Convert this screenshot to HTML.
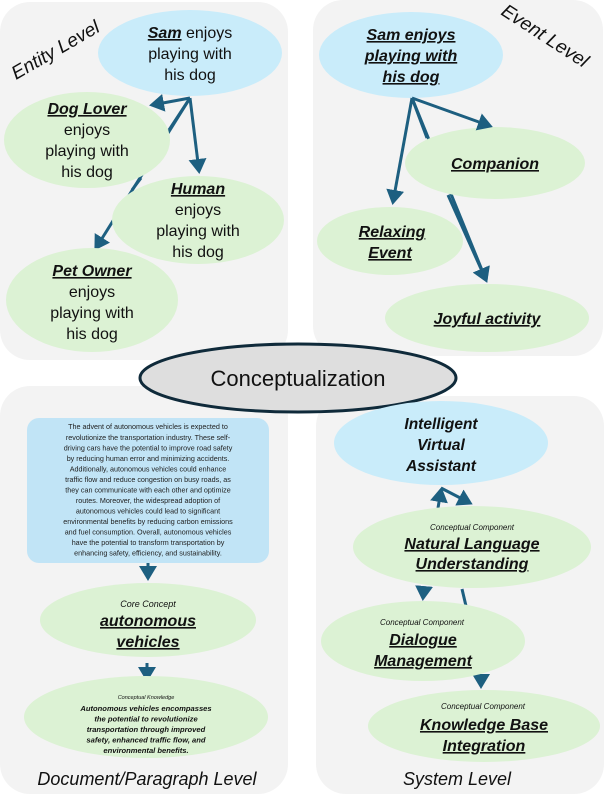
<!DOCTYPE html>
<html><head><meta charset="utf-8"><style>
html,body{margin:0;padding:0;background:#fff}
svg{display:block}
text{font-family:"Liberation Sans",sans-serif;fill:#111}
.b{font-weight:bold;font-style:italic;text-decoration:underline}
.n{font-size:16px}
.s{font-size:7.2px;fill:#222}
</style></head><body>
<svg width="604" height="796" viewBox="0 0 604 796" xmlns="http://www.w3.org/2000/svg">
<defs>
<marker id="a" markerWidth="6" markerHeight="6" refX="4" refY="3" orient="auto" markerUnits="strokeWidth"><path d="M0,0 L5,3 L0,6 z" fill="#1d5f80"/></marker>
</defs>
<g fill="#f3f3f3">
<rect x="0" y="2" width="288" height="358" rx="30"/>
<rect x="313" y="0" width="290" height="356" rx="30"/>
<rect x="0" y="386" width="288" height="408" rx="30"/>
<rect x="316" y="396" width="288" height="398" rx="30"/>
</g>
<g stroke="#1d5f80" stroke-width="3" fill="none">
<line x1="190" y1="98" x2="96" y2="248" marker-end="url(#a)"/>
<line x1="412" y1="98" x2="486" y2="280" marker-end="url(#a)"/>
</g>
<!-- Entity -->
<text transform="translate(16,80) rotate(-30)" font-size="19" font-style="italic">Entity Level</text>
<ellipse cx="190" cy="53" rx="92" ry="43" fill="#c9ecfa"/>
<text class="n" text-anchor="middle" x="190"><tspan x="190" y="38"><tspan class="b">Sam</tspan> enjoys</tspan><tspan x="190" y="59">playing with</tspan><tspan x="190" y="80">his dog</tspan></text>
<ellipse cx="87" cy="140" rx="83" ry="48" fill="#dcf2d4"/>
<ellipse cx="198" cy="220" rx="86" ry="44" fill="#dcf2d4"/>
<ellipse cx="92" cy="300" rx="86" ry="52" fill="#dcf2d4"/>
<g stroke="#1d5f80" stroke-width="3" fill="none">
<line x1="190" y1="98" x2="152" y2="105" marker-end="url(#a)"/>
<line x1="190" y1="98" x2="199" y2="171" marker-end="url(#a)"/>
<line x1="190" y1="98" x2="169" y2="130"/>
<line x1="141" y1="178" x2="132" y2="190"/>
</g>
<text class="n" text-anchor="middle"><tspan x="87" y="114" class="b">Dog Lover</tspan><tspan x="87" y="135">enjoys</tspan><tspan x="87" y="156">playing with</tspan><tspan x="87" y="177">his dog</tspan></text>
<text class="n" text-anchor="middle"><tspan x="198" y="194" class="b">Human</tspan><tspan x="198" y="215">enjoys</tspan><tspan x="198" y="236">playing with</tspan><tspan x="198" y="257">his dog</tspan></text>
<text class="n" text-anchor="middle"><tspan x="92" y="276" class="b">Pet Owner</tspan><tspan x="92" y="297">enjoys</tspan><tspan x="92" y="318">playing with</tspan><tspan x="92" y="339">his dog</tspan></text>
<!-- Event -->
<text transform="translate(500,14) rotate(33)" font-size="19" font-style="italic">Event Level</text>
<ellipse cx="411" cy="55" rx="92" ry="43" fill="#c9ecfa"/>
<text class="n" text-anchor="middle"><tspan x="411" y="40" class="b">Sam enjoys</tspan><tspan x="411" y="61" class="b">playing with</tspan><tspan x="411" y="82" class="b">his dog</tspan></text>
<ellipse cx="495" cy="163" rx="90" ry="36" fill="#dcf2d4"/>
<ellipse cx="390" cy="241" rx="73" ry="34" fill="#dcf2d4"/>
<ellipse cx="487" cy="318" rx="102" ry="34" fill="#dcf2d4"/>
<g stroke="#1d5f80" stroke-width="3" fill="none">
<line x1="412" y1="98" x2="490" y2="126" marker-end="url(#a)"/>
<line x1="412" y1="98" x2="393" y2="202" marker-end="url(#a)"/>
<line x1="412" y1="98" x2="427" y2="138"/>
<line x1="448" y1="195" x2="486" y2="280" marker-end="url(#a)"/>
</g>
<text class="n" text-anchor="middle"><tspan x="495" y="169" class="b">Companion</tspan></text>
<text class="n" text-anchor="middle"><tspan x="392" y="237" class="b">Relaxing</tspan><tspan x="390" y="258" class="b">Event</tspan></text>
<text class="n" text-anchor="middle"><tspan x="487" y="324" class="b">Joyful activity</tspan></text>
<!-- center -->
<ellipse cx="298" cy="378" rx="158" ry="34" fill="#dedede" stroke="#0f2a3a" stroke-width="3"/>
<text x="298" y="386" text-anchor="middle" font-size="22">Conceptualization</text>
<!-- Document -->
<rect x="27" y="418" width="242" height="145" rx="12" fill="#c1e4f6"/>
<g class="s" text-anchor="middle">
<text class="s" x="148" y="429">The advent of autonomous vehicles is expected to</text>
<text class="s" x="148" y="440">revolutionize the transportation industry. These self-</text>
<text class="s" x="148" y="450.5">driving cars have the potential to improve road safety</text>
<text class="s" x="148" y="461">by reducing human error and minimizing accidents.</text>
<text class="s" x="148" y="471.5">Additionally, autonomous vehicles could enhance</text>
<text class="s" x="148" y="482">traffic flow and reduce congestion on busy roads, as</text>
<text class="s" x="148" y="492.5">they can communicate with each other and optimize</text>
<text class="s" x="148" y="503">routes. Moreover, the widespread adoption of</text>
<text class="s" x="148" y="513.5">autonomous vehicles could lead to significant</text>
<text class="s" x="148" y="524">environmental benefits by reducing carbon emissions</text>
<text class="s" x="148" y="534.5">and fuel consumption. Overall, autonomous vehicles</text>
<text class="s" x="148" y="545">have the potential to transform transportation by</text>
<text class="s" x="148" y="555.5">enhancing safety, efficiency, and sustainability.</text>
</g>
<g stroke="#1d5f80" stroke-width="3" fill="none">
<line x1="148" y1="563" x2="148" y2="578" marker-end="url(#a)"/>
<line x1="147" y1="663" x2="147" y2="679" marker-end="url(#a)"/>
</g>
<ellipse cx="148" cy="620" rx="108" ry="37" fill="#dcf2d4"/>
<text x="148" y="607" text-anchor="middle" font-size="9" font-style="italic">Core Concept</text>
<text class="n" text-anchor="middle"><tspan x="148" y="626" class="b">autonomous</tspan><tspan x="148" y="647" class="b">vehicles</tspan></text>
<ellipse cx="146" cy="717" rx="122" ry="41" fill="#dcf2d4"/>
<text x="146" y="699" text-anchor="middle" font-size="5.5" font-style="italic">Conceptual Knowledge</text>
<g text-anchor="middle" font-size="7.6" font-weight="bold" font-style="italic">
<text x="146" y="711">Autonomous vehicles encompasses</text>
<text x="146" y="721.5">the potential to revolutionize</text>
<text x="146" y="732">transportation through improved</text>
<text x="146" y="742.5">safety, enhanced traffic flow, and</text>
<text x="146" y="753">environmental benefits.</text>
</g>
<text x="147" y="785" text-anchor="middle" font-size="18" font-style="italic">Document/Paragraph Level</text>
<!-- System -->
<ellipse cx="441" cy="443" rx="107" ry="42" fill="#c9ecfa"/>
<g text-anchor="middle" font-size="15.5" font-weight="bold" font-style="italic">
<text x="441" y="429">Intelligent</text><text x="441" y="450">Virtual</text><text x="441" y="471">Assistant</text></g>
<g stroke="#1d5f80" stroke-width="3" fill="none">
<line x1="438" y1="508" x2="441" y2="490" marker-end="url(#a)"/>
<line x1="441" y1="488" x2="470" y2="503" marker-end="url(#a)"/>
</g>
<ellipse cx="472" cy="547" rx="119" ry="41" fill="#dcf2d4"/>
<text x="472" y="530" text-anchor="middle" font-size="8" font-style="italic">Conceptual Component</text>
<text class="n" text-anchor="middle"><tspan x="472" y="549" class="b">Natural Language</tspan><tspan x="472" y="569" class="b">Understanding</tspan></text>
<g stroke="#1d5f80" stroke-width="3" fill="none">
<line x1="424" y1="587" x2="423" y2="598" marker-end="url(#a)"/>
<line x1="462" y1="589" x2="466" y2="606"/>
<line x1="481" y1="676" x2="481" y2="686" marker-end="url(#a)"/>
</g>
<ellipse cx="423" cy="641" rx="102" ry="40" fill="#dcf2d4"/>
<text x="422" y="625" text-anchor="middle" font-size="8" font-style="italic">Conceptual Component</text>
<text class="n" text-anchor="middle"><tspan x="423" y="645" class="b">Dialogue</tspan><tspan x="423" y="666" class="b">Management</tspan></text>
<ellipse cx="484" cy="726" rx="116" ry="36" fill="#dcf2d4"/>
<text x="483" y="709" text-anchor="middle" font-size="8" font-style="italic">Conceptual Component</text>
<text class="n" text-anchor="middle"><tspan x="484" y="730" class="b">Knowledge Base</tspan><tspan x="484" y="751" class="b">Integration</tspan></text>
<text x="457" y="785" text-anchor="middle" font-size="18" font-style="italic">System Level</text>
</svg>
</body></html>
